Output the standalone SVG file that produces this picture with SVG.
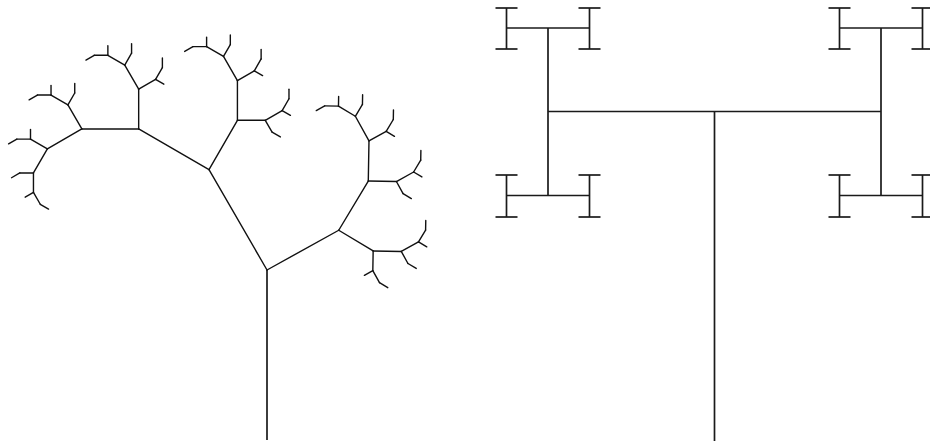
<svg xmlns="http://www.w3.org/2000/svg" xmlns:xlink="http://www.w3.org/1999/xlink" width="930" height="448" viewBox="0 0 930 448">
<style>
.b{stroke:#111;stroke-width:1.4;fill:none;vector-effect:non-scaling-stroke;stroke-linecap:round}
.h{stroke:#1a1a1a;stroke-width:1.7;fill:none}
</style>
<defs>
<g id="g0"><line class="b" x1="0" y1="0" x2="0" y2="-1"/></g>
<g id="g1"><line class="b" x1="0" y1="0" x2="0" y2="-1"/><use href="#g0" transform="translate(0,-1) rotate(-30) scale(0.7)"/></g>
<g id="g2"><line class="b" x1="0" y1="0" x2="0" y2="-1"/><use href="#g1" transform="translate(0,-1) rotate(-30) scale(0.7)"/><use href="#g0" transform="translate(0,-1) rotate(60) scale(0.49)"/></g>
<g id="g3"><line class="b" x1="0" y1="0" x2="0" y2="-1"/><use href="#g2" transform="translate(0,-1) rotate(-30) scale(0.7)"/><use href="#g1" transform="translate(0,-1) rotate(60) scale(0.49)"/></g>
<g id="g4"><line class="b" x1="0" y1="0" x2="0" y2="-1"/><use href="#g3" transform="translate(0,-1) rotate(-30) scale(0.7)"/><use href="#g2" transform="translate(0,-1) rotate(60) scale(0.49)"/></g>
<g id="g5"><line class="b" x1="0" y1="0" x2="0" y2="-1"/><use href="#g4" transform="translate(0,-1) rotate(-30) scale(0.7)"/><use href="#g3" transform="translate(0,-1) rotate(60) scale(0.49)"/></g>
<g id="g6"><line class="b" x1="0" y1="0" x2="0" y2="-1"/><use href="#g5" transform="translate(0,-1) rotate(-30) scale(0.7)"/><use href="#g4" transform="translate(0,-1) rotate(60) scale(0.49)"/></g>
<g id="g7"><line class="b" x1="0" y1="0" x2="0" y2="-1"/><use href="#g6" transform="translate(0,-1) rotate(-30) scale(0.7)"/><use href="#g5" transform="translate(0,-1) rotate(60) scale(0.49)"/></g>
</defs>
<rect width="930" height="448" fill="#fff"/>
<g id="fractal-tree">
<line class="h" x1="267" y1="440" x2="267" y2="270"/>
<use href="#g7" transform="translate(267,270) rotate(-30) scale(116)"/>
<use href="#g6" transform="translate(267,270) rotate(61) scale(82)"/>
</g>
<g id="h-tree" class="h">
<line x1="714.5" y1="441" x2="714.5" y2="111.5"/>
<line x1="548" y1="111.5" x2="881" y2="111.5"/>
<line x1="548" y1="28" x2="548" y2="195.5"/>
<line x1="881" y1="28" x2="881" y2="195.5"/>
<line x1="506.5" y1="28" x2="589.5" y2="28"/>
<line x1="506.5" y1="195.5" x2="589.5" y2="195.5"/>
<line x1="839.5" y1="28" x2="922.5" y2="28"/>
<line x1="839.5" y1="195.5" x2="922.5" y2="195.5"/>
<line x1="506.5" y1="8" x2="506.5" y2="49"/>
<line x1="589.5" y1="8" x2="589.5" y2="49"/>
<line x1="839.5" y1="8" x2="839.5" y2="49"/>
<line x1="922.5" y1="8" x2="922.5" y2="49"/>
<line x1="506.5" y1="175" x2="506.5" y2="217"/>
<line x1="589.5" y1="175" x2="589.5" y2="217"/>
<line x1="839.5" y1="175" x2="839.5" y2="217"/>
<line x1="922.5" y1="175" x2="922.5" y2="217"/>
<line x1="495.5" y1="8" x2="517.5" y2="8"/>
<line x1="578.5" y1="8" x2="600.5" y2="8"/>
<line x1="828.5" y1="8" x2="850.5" y2="8"/>
<line x1="911.5" y1="8" x2="933.5" y2="8"/>
<line x1="495.5" y1="49" x2="517.5" y2="49"/>
<line x1="578.5" y1="49" x2="600.5" y2="49"/>
<line x1="828.5" y1="49" x2="850.5" y2="49"/>
<line x1="911.5" y1="49" x2="933.5" y2="49"/>
<line x1="495.5" y1="175" x2="517.5" y2="175"/>
<line x1="578.5" y1="175" x2="600.5" y2="175"/>
<line x1="828.5" y1="175" x2="850.5" y2="175"/>
<line x1="911.5" y1="175" x2="933.5" y2="175"/>
<line x1="495.5" y1="217" x2="517.5" y2="217"/>
<line x1="578.5" y1="217" x2="600.5" y2="217"/>
<line x1="828.5" y1="217" x2="850.5" y2="217"/>
<line x1="911.5" y1="217" x2="933.5" y2="217"/>
</g>
</svg>
